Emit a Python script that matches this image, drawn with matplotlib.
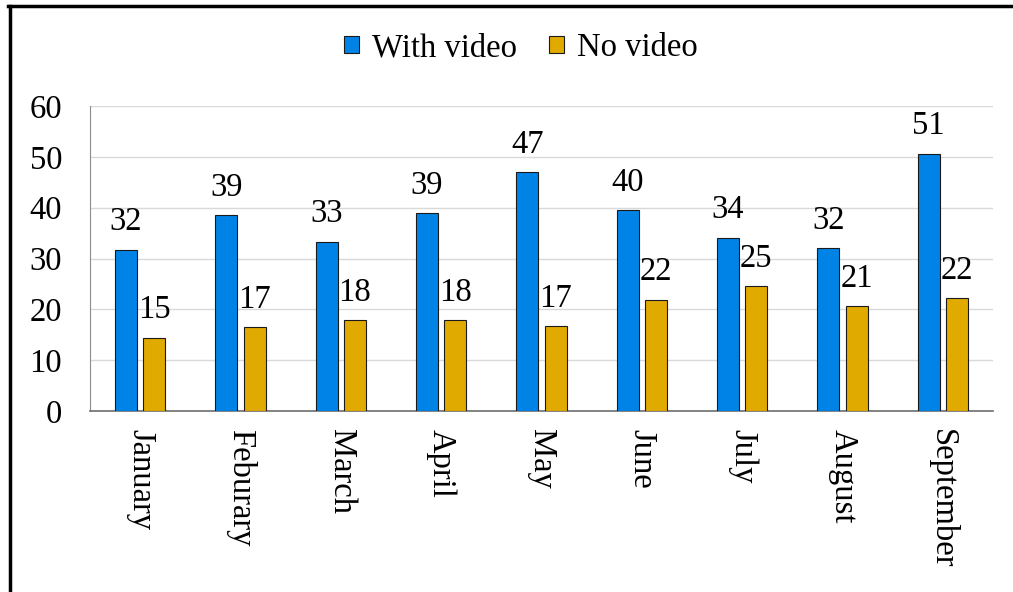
import matplotlib.pyplot as plt
from matplotlib.lines import Line2D
import numpy as np

plt.rcParams['font.family'] = ['Liberation Serif', 'DejaVu Serif']

# data
months = ['January', 'Feburary', 'March', 'April', 'May', 'June', 'July', 'August', 'September']
with_video = [31.7, 38.5, 33.3, 38.9, 47.0, 39.5, 34.1, 32.0, 50.6]
no_video = [14.4, 16.5, 17.9, 17.9, 16.7, 21.9, 24.5, 20.6, 22.2]
with_labels = [32, 39, 33, 39, 47, 40, 34, 32, 51]
no_labels = [15, 17, 18, 18, 17, 22, 25, 21, 22]

blue = '#0083e6'
gold = '#e0aa00'
fs = 23.5

fig = plt.figure(figsize=(10.13, 5.92), dpi=100)
ax = fig.add_axes([90 / 1013, 1 - 411 / 592, 903 / 1013, 305 / 592])

x = np.arange(len(months))
w = 0.22
b1 = ax.bar(x - 0.14, with_video, w, color=blue, edgecolor='#1a1a1a', linewidth=0.8, label='With video', zorder=3)
b2 = ax.bar(x + 0.14, no_video, w, color=gold, edgecolor='#1a1a1a', linewidth=0.8, label='No video', zorder=3)

# value labels
for bars, labs in ((b1, with_labels), (b2, no_labels)):
    for r, lab in zip(bars, labs):
        ax.annotate(str(lab), (r.get_x() + r.get_width() / 2, r.get_height()),
                    xytext=(0, 9), textcoords='offset points',
                    ha='center', va='bottom', fontsize=fs)

ax.set_xlim(-0.5, len(months) - 0.5)
ax.set_ylim(0, 60)
ax.set_yticks(range(0, 61, 10))
ax.set_xticks(x)
ax.set_xticklabels(months, rotation=-90, va='top', ha='center')
ax.tick_params(axis='both', length=0, labelsize=fs)
ax.tick_params(axis='y', pad=20)
ax.tick_params(axis='x', pad=13)

ax.grid(axis='y', color='#d9d9d9', linewidth=1, zorder=0)
ax.spines['top'].set_visible(False)
ax.spines['right'].set_visible(False)
ax.spines['left'].set_color('#8c8c8c')
ax.spines['bottom'].set_color('#6e6e6e')
ax.spines['bottom'].set_linewidth(1.2)

fig.legend(loc='center', bbox_to_anchor=(521 / 1013, 1 - 48 / 592), ncol=2, frameon=False,
           fontsize=fs, handlelength=0.45, handleheight=0.45, handletextpad=0.4, columnspacing=1.0)

# frame around the picture (left and top edges)
fig.add_artist(Line2D([9.5 / 1013, 9.5 / 1013], [0, 1 - 6 / 592], color='black', linewidth=2.5, transform=fig.transFigure))
fig.add_artist(Line2D([8 / 1013, 1], [1 - 6 / 592, 1 - 6 / 592], color='black', linewidth=2.5, transform=fig.transFigure))

fig.savefig('out.png', dpi=100)
